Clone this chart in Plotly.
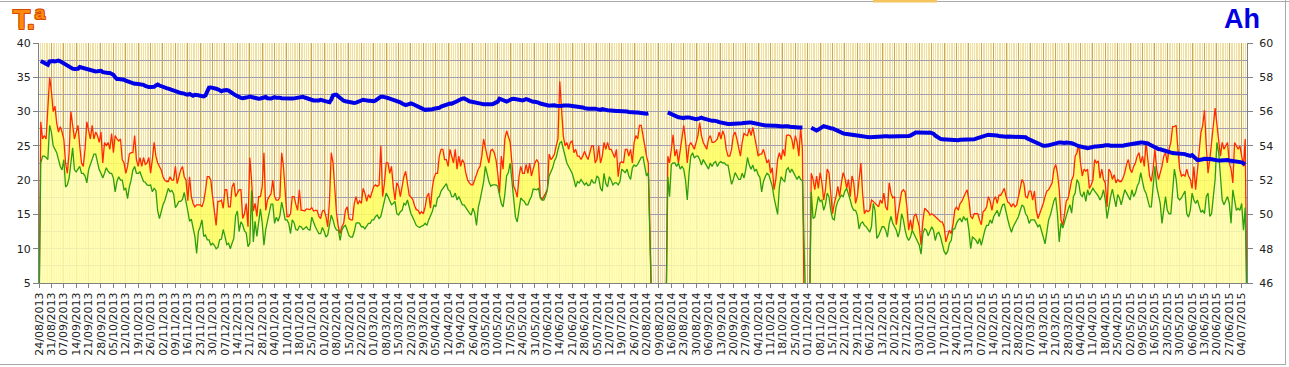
import pandas as pd
import plotly.graph_objects as go

# ---------------- data (daily, from 24/08/2013) ----------------
start_date = "2013-08-24"

tmax = [
None,
28.5, 26, 26.5, 26, 31, 35, 33, 30, 30.8, 28.3,
27, 27.8, 27, 26, 22.5, 21, 24, 30, 28, 26,
27, 28, 25, 22.5, 22, 24.5, 28.5, 27, 26, 28,
26, 27, 26.5, 25.5, 27, 22.5, 25.5, 25, 25.5, 24.5,
26.8, 24, 26.5, 26, 25.7, 26, 23, 22.5, 21, 22,
23.8, 24, 24, 26.5, 23, 22, 23.3, 22, 23.3, 22.3,
22.5, 23.3, 21, 23, 25.5, 23.5, 22.5, 22, 21.5, 20.5,
20, 19.8, 19.8, 20.5, 20, 20, 22, 19.5, 20.5, 21.5,
22, 20.5, 20, 17, 20.5, 17.6, 16.6, 16.1, 16.4, 16.4,
16.4, 16.1, 16.9, 18.5, 20.5, 20.5, 20, 17.6, 15, 13.4,
16.9, 16.9, 17.1, 15.9, 18.6, 18.6, 16.1, 16.1, 19, 19.6,
17.6, 18.1, 18.6, 18.6, 14.4, 15.1, 16.6, 13.2, 23.3, 20,
15.5, 16.6, 14.7, 17.6, 17.6, 19, 24, 15.6, 17.1, 17.6,
18, 20, 17.6, 17.1, 17.1, 17.5, 24, 22, 17.6, 14.7,
14.7, 15.1, 17.6, 17.6, 16.5, 15.6, 18.6, 15.6, 15.6, 15.5,
15.8, 15.8, 15.7, 16, 15.5, 15.6, 15.6, 14.7, 14.4, 15.5,
15.6, 14.7, 13.2, 17,
24, 22.5, 18, 15.1, 13.2, 12.2, 13.2, 13.7, 15.6, 16.1,
14.4, 14.2, 14.2, 16.6, 17.6, 16.5, 17, 16.6, 18.8, 18.1,
16.9, 17.9, 17.4, 18.3, 19.1, 19.3, 19.1, 19.3, 25, 17.6,
19.5, 22.5, 22.5, 21, 22, 19.1, 17.1, 19.6, 19.1, 17.6,
19.3, 20.5, 21.3, 19.5, 17.8, 17.5, 17.2, 16.3, 15.7, 15.6,
15.1, 15.4, 15.1, 16.1, 17.6, 18.1, 15.9, 18.8, 20.3, 21,
21, 23.5, 24.5, 24.5, 23, 23, 22, 24.5, 23.5, 22.5,
24.5, 21.6, 23.5, 22, 23, 22.5, 21, 20, 19.6, 19.3,
19.3, 20, 21, 21.6, 22, 23.5, 26, 24.5, 23.5, 22.5,
24.3, 24.5, 24, 23, 21, 18.1, 23.5, 21.6, 26, 27.2,
26.5, 25.5, 22.5, 19.1, 18.5, 17.5, 20.5, 22, 21, 21,
22.3, 21, 22.5, 20.6, 21.6, 22.5, 23, 22.5, 17.6, 17.1,
17.6, 18.1, 18.6, 23.8, 23, 23.3, 23.8, 25, 26, 34.4,
30, 26.5, 25, 25.5, 24.5, 25.5, 25.7, 24, 24.5, 23.5,
23.5, 23, 23.5, 24.2, 23.5, 23, 24, 25, 25, 22.5,
23, 25,
22.5, 23.5, 25.5, 24.5, 25.5, 24.5, 24.5, 23.8, 23.3, 24.5,
20.5, 22.5, 22.7, 22.5, 24.5, 24.5, 23.5, 24.5, 22.5, 25.5,
26.5, 26, 28, 28, 26.5, 24.5, 23.5, 22.5,
None, None, None, None, None, None, None, None, None, None,
23.5, 22.5, 24.5, 26.6, 23.5, 24.5, 22.5, 24.5, 26.5, 28,
25.8, 22.5, 25, 25.5, 25, 24.5, 25.5, 26.5, 28.4, 26.5,
25.5, 25, 24.5, 26, 26.5, 25.5, 25.5, 25.7, 26, 27,
26, 27.2, 26.5, 24.5, 23.5, 23.5, 24.5, 26.5, 27, 26,
24.5, 23.5, 25.5, 26.8, 26.6, 26.5, 27.5, 26.5, 27.7, 26.5,
25, 23.5, 23.8, 23.8, 24.5, 23.5, 22.5, 23, 21, 21.8,
18.6, 20.1, 23, 24, 23, 24.5, 23.5, 26.5, 26.6, 26.5,
26, 24.5, 26.5, 25.5, 23.5, 27.7, 24.5,
None, None, None, None,
21, 20.1, 18.6, 20.6, 18.8, 21.1, 19.6, 17.1, 18.6, 21.6,
21.1, 18.6, 15.1, 16.6, 17.6, 19.1, 17.6, 19.6, 21.1, 20.3,
18.8, 20.1, 17.6, 20.6, 19.6, 16.6, 17.6, 20.1, 22.5, 18,
15.1, 15.6, 15.4, 15.6, 17.1, 16.9, 16.6, 16.4, 16.1, 17.1,
16.6, 18.1, 16.1, 15.6, 19.6, 18.1, 17.4, 17.6, 13.5, 15.2,
17.1,
18.3, 18.6, 18.3, 16.1, 12.7, 14.2, 12.7, 14.7, 15.1, 14.2,
13.2, 10.5, 14, 15.9, 15.6, 15.4, 14.9, 15.1, 14.9, 14.7,
14.4, 14.2, 13.9, 13.9, 13.2, 11, 11.9, 12.7, 12.2, 13.5,
15.6, 16.1, 15.6, 16.6, 16.9, 17.6, 18.1, 18.6, 17.1, 14.7,
14.4, 15.1, 15.1, 15.1, 14.2, 13.5, 15.4, 15.6, 16.1, 17.6,
16.9, 15.6, 17.1, 17.6, 16.6, 17.8, 17.8, 18.4, 18.8, 17.6,
16.8, 16.6, 16.1, 16.6, 16.1, 16.4, 17.6, 18.8, 20.1, 19.6,
17.6, 17.4, 18.4, 18.4, 17.1, 18.4, 15.6, 14.4, 15.1, 15.6,
16.6, 17.6, 18.4, 18.6,
19.1, 19.6, 21.6, 22.3, 21, 18.6, 14.2, 13.4, 15.1, 17,
17.3, 18.7, 20, 20.6, 23.5, 24, 25.2, 22.5, 20.6, 21.6,
21.3, 21.6, 18.8, 19.3, 20, 23, 22.5, 22.8, 20.3, 21.6,
20.1, 19.6, 16.1, 21.6, 21.2, 20.1, 20.8, 19.6, 20.1, 19.8,
19.8, 20.3, 21.1, 22.3, 23, 21.6, 21.1, 22, 22.5, 23.5,
24, 22.5, 23.5, 22, 25.5, 23, 20.6, 19.8, 21.6, 24.5,
21.6, 20.1, 21.1, 22, 23.5, 24, 22.5, 24.5, 25.5, 27.8,
27.8, 28, 24.5, 21.6, 20.6, 20.8, 20.6, 21.6, 20.6, 20.1,
18.8, 22, 18.6, 21.5, 24, 27, 28, 30.2, 25, 21,
23, 26, 28, 30.5, 28, 26.5, 23.5, 25.5, 24.5, 25,
25.5, 22.5, 21.6, 19.6, 25.5, 25, 24.5, 25, 23.5, 22,
26,
None,
]

tmin = [
None,
22.5, 23.5, 23.5, 23.3, 23, 28, 27, 25, 24.5, 24,
23, 22, 21.5, 23, 19, 19.3, 20.3, 23, 24.7, 21.5,
21.2, 21.6, 22, 21, 21, 20.6, 19.6, 21.5, 22.2, 23,
23.8, 23.8, 22.5, 21.5, 21, 20.3, 21, 21.8, 21.3, 21,
21, 20.3, 18.3, 19.8, 20.5, 20, 20, 18.6, 18.8, 17.3,
19, 20, 21.5, 22, 21, 21, 21.2, 20.5, 19.8, 19.7,
19.3, 19.2, 19.3, 18.3, 18.8, 18.5, 15.5, 14.4, 15.5, 16.4,
17, 18, 18.8, 18.3, 18.5, 18, 16, 16.4, 16.9, 16.9,
17.2, 18.2, 17, 15.5, 14, 14.3, 13, 11.8, 9.3, 12.5,
13.2, 14.2, 11.8, 12, 11.3, 11.3, 10.5, 10.8, 10.5, 10,
10.2, 11.3, 11.4, 12.8, 11.8, 10.6, 10.8, 10, 10.8, 11.5,
14.8, 15.5, 12.5, 13.9, 13.5, 12.6, 12.3, 10.3, 10.8, 18.5,
11, 14, 11.8, 14.2, 15.8, 13.8, 10.5, 12.8, 14, 15.4,
16.5, 16.5, 13.7, 14.6, 14, 14.8, 16.8, 15.6, 14.2, 14.2,
13.7, 12.2, 14.2, 13.8, 12.8, 12.7, 13.3, 13.2, 12.8, 13,
13.2, 12.8, 12.7, 14.6, 13.7, 13.2, 12.7, 12.2, 12.2, 13.1,
12.5, 11.7, 12, 13.3,
14.9, 14.2, 13.2, 12.7, 12.7, 11.2, 12.7, 13.2, 13.4, 12.7,
11.9, 11.7, 11.7, 12.5, 13.7, 13.8, 13.7, 13.2, 13.2, 12.9,
13.4, 13.7, 13.7, 14.2, 14.2, 14.7, 14.9, 14.4, 14.7, 15.9,
17.4, 18.1, 17.6, 17.1, 16.4, 16.6, 16.9, 15.1, 14.9, 15.4,
15.6, 16.6, 16.4, 17.1, 16.1, 15.1, 14.6, 13.9, 13.4, 13.2,
13.1, 13.3, 13.4, 13.7, 13.4, 14.2, 14.8, 15.4, 16.4, 16.1,
17.4, 17.6, 18.4, 18.8, 19, 19.5, 18.6, 18.4, 17.6, 17.6,
18.1, 17.1, 17.6, 16.9, 16.4, 16.4, 15.9, 15.6, 15.2, 14.9,
15.9, 15.2, 13.4, 16, 17.1, 18.6, 19.7, 22, 20.6, 19.8,
19.1, 19.3, 19.3, 19.3, 19.1, 17.9, 16.6, 16.1, 17.9, 20.6,
21.1, 22.5, 19.8, 16.6, 14.6, 13.9, 15.6, 17.4, 17.1, 16.9,
16.4, 16.4, 17.1, 17.6, 18.7, 18.6, 18.6, 18.8, 17.4, 17.1,
17.1, 17.7, 18.6, 20.6, 21.2, 21.8, 22.8, 23.3, 24.4, 25.4,
25.6, 24.5, 23.5, 22.5, 22, 21.6, 21, 20.1, 19, 19.8,
19.6, 20.1, 19.6, 19.3, 19.6, 19.2, 19.3, 20.1, 19.6, 19.6,
20.6, 20.3,
18.8, 18.4, 21, 19.5, 19, 20.5, 20, 19.3, 19.6, 19.6,
19.3, 19.8, 21.6, 21.3, 21.1, 21.6, 20.6, 20.1, 21.8, 22.2,
22, 22.3, 22.8, 23.3, 23.4, 22, 20.6, 21.1,
None, None, None, None, None, None, None, None, None, None,
20.5, 17.6, 22.3, 22.5, 22.5, 22, 22.5, 21.6, 22, 21.6,
20, 17.1, 21, 23.5, 24, 23.2, 23.5, 23.5, 23, 22.2,
23, 22.5, 22, 21.6, 22.5, 22, 22.5, 22.7, 22, 22.5,
22.7, 22.5, 22.5, 22.2, 22.2, 21, 19.4, 20.1, 21.1, 20.6,
20.1, 20.1, 21, 20.3, 21.5, 23.3, 22.2, 21.6, 22.2, 21.3,
21.6, 20.8, 20.4, 18.3, 19.8, 20.5, 21, 20.8, 20.1, 19.1,
17.4, 15.9, 15, 19, 20.5, 20, 19.8, 21.5, 21.8, 21.1,
21.6, 21.1, 20.6, 20.1, 20.6, 20.1, 19.9,
None, None, None, None,
18.3, 14.4, 14.6, 16.1, 17.6, 16.9, 17.1, 15.6, 16.4, 18.1,
17.6, 15.6, 14.4, 14.2, 16.1, 16.9, 17.4, 17.8, 17.6, 18.4,
18.8, 18.1, 17.1, 16.1, 15.6, 15.6, 14.9, 12.9, 13.7, 13.9,
13.4, 13.2, 12.7, 12.4, 13.2, 16.6, 15.6, 11.5, 11.9, 12.7,
13.2, 13.2, 12.7, 11.7, 13.7, 14.7, 13.7, 13.2, 12.7, 11.7,
12.7,
15.1, 14.2, 12.7, 11.7, 11.2, 11.7, 12.7, 12.2, 11.7, 11.2,
10.5, 9.2, 12.2, 12.9, 12.7, 11.9, 12.7, 13.2, 12.7, 11.2,
12.2, 12.4, 11.7, 10.8, 9.6, 9.2, 9.6, 10.8, 11.2, 12.9,
12.9, 13.7, 14.2, 14.4, 13.9, 14.7, 14.2, 14.4, 12.7, 10,
11.7, 11.5, 11.2, 10.7, 11.5, 10.5, 11.7, 12.7, 13.4, 13.4,
14.2, 13.7, 14.7, 15.1, 15.6, 14.7, 15.6, 16.4, 16.5, 15.1,
14.2, 13.2, 12.4, 13.2, 13.7, 14.2, 14.7, 15.6, 16.4, 16.1,
15.1, 14.7, 13.7, 14.2, 14.2, 14.2, 13.7, 13.2, 13.5, 12.7,
11.7, 10.7, 12.7, 14.2,
14.9, 16.1, 17, 17.5, 15, 11, 13.7, 13, 14, 15.1,
15.7, 16.4, 15.2, 17.6, 18.1, 20.1, 19.6, 17.9, 17.6, 18.3,
16.9, 18.6, 17.8, 18.3, 18.8, 18.4, 18.1, 17.7, 17.1, 17.6,
18.6, 17.1, 14.4, 16.1, 17.6, 18.7, 17.1, 16.1, 17.9, 17.4,
16.4, 17.8, 18.6, 18.1, 17.6, 17.1, 18.6, 17.6, 18.1, 19.1,
19.6, 21.1, 19.8, 18.6, 18.1, 17.1, 16.1, 16.1, 19.1, 22,
19.1, 17.6, 16.6, 13.7, 16.1, 17.6, 15.6, 15.1, 15.1, 19.1,
21.6, 20.1, 17.4, 17.1, 17.4, 17.9, 18.4, 15.1, 14.6, 15.6,
18.1, 17.1, 16.6, 17.1, 16.1, 15.3, 15.6, 15.1, 17.6, 18.1,
14.7, 15.1, 17.6, 20.1, 25.5, 24, 20.6, 17.1, 16.4, 17.1,
17.6, 16.6, 13.7, 18.6, 17.1, 15.6, 15.9, 15.6, 16.6, 12.7,
16,
None,
]

ah = [
None,
58.95, 58.9, 58.82, 58.77, 58.73, 58.93, 58.97, 58.95, 58.93, 58.95,
58.97, 58.93, 58.87, 58.8, 58.72, 58.64, 58.58, 58.54, 58.5, 58.48,
58.48, 58.5, 58.6, 58.57, 58.54, 58.5, 58.44, 58.42, 58.4, 58.37,
58.34, 58.34, 58.35, 58.37, 58.38, 58.3, 58.27, 58.25, 58.25, 58.25,
58.2, 58.15, 58, 57.9, 57.9, 57.9, 57.88, 57.86, 57.8, 57.76,
57.7, 57.66, 57.63, 57.62, 57.62, 57.61, 57.6, 57.58, 57.56, 57.5,
57.43, 57.43, 57.43, 57.43, 57.45, 57.53, 57.58, 57.52, 57.47, 57.43,
57.4, 57.37, 57.34, 57.31, 57.29, 57.26, 57.22, 57.17, 57.12, 57.08,
57.08, 57.05, 57, 56.98, 57.03, 56.95, 56.92, 56.98, 56.98, 56.95,
56.92, 56.9, 56.88, 56.95, 57.2, 57.4, 57.41, 57.4, 57.37, 57.33,
57.3, 57.2, 57.18, 57.23, 57.25, 57.26, 57.22, 57.17, 57.1, 57.02,
56.95, 56.88, 56.82, 56.8, 56.78, 56.78, 56.82, 56.84, 56.88, 56.85,
56.82, 56.8, 56.75, 56.75, 56.76, 56.8, 56.84, 56.85, 56.78, 56.74,
56.76, 56.8, 56.84, 56.8, 56.77, 56.8, 56.78, 56.77, 56.76, 56.75,
56.74, 56.75, 56.76, 56.77, 56.79, 56.82, 56.86, 56.88, 56.86, 56.82,
56.78, 56.74, 56.69, 56.67, 56.65, 56.64, 56.63, 56.65, 56.68, 56.66,
56.63, 56.6, 56.57, 56.54,
56.7, 56.95, 56.98, 56.98, 56.88, 56.78, 56.7, 56.63, 56.6, 56.57,
56.54, 56.52, 56.5, 56.5, 56.52, 56.56, 56.62, 56.67, 56.69, 56.67,
56.63, 56.63, 56.63, 56.6, 56.6, 56.65, 56.72, 56.84, 56.87, 56.87,
56.86, 56.82, 56.79, 56.76, 56.73, 56.7, 56.65, 56.61, 56.58, 56.54,
56.47, 56.41, 56.38, 56.41, 56.44, 56.48, 56.44, 56.38, 56.32, 56.26,
56.22, 56.18, 56.14, 56.1, 56.1, 56.1, 56.13, 56.14, 56.16, 56.17,
56.2, 56.22, 56.29, 56.33, 56.4, 56.45, 56.49, 56.47, 56.46, 56.49,
56.53, 56.6, 56.66, 56.72, 56.75, 56.77, 56.74, 56.66, 56.6, 56.57,
56.55, 56.53, 56.51, 56.49, 56.47, 56.45, 56.43, 56.43, 56.43, 56.42,
56.4, 56.43, 56.48, 56.52, 56.58, 56.75, 56.7, 56.63, 56.6, 56.58,
56.63, 56.7, 56.74, 56.75, 56.72, 56.69, 56.66, 56.65, 56.65, 56.68,
56.73, 56.7, 56.65, 56.6, 56.57, 56.57, 56.57, 56.52, 56.47, 56.44,
56.42, 56.38, 56.36, 56.34, 56.36, 56.39, 56.37, 56.34, 56.32, 56.3,
56.33, 56.35, 56.37, 56.36, 56.35, 56.34, 56.33, 56.32, 56.3, 56.3,
56.3, 56.28, 56.24, 56.2, 56.16, 56.16, 56.16, 56.18, 56.2, 56.17,
56.14, 56.12, 56.1, 56.14, 56.14, 56.1, 56.08, 56.06, 56.08, 56.05,
56.04, 56.04, 56.04, 56.04, 56.04, 56.04, 56.02, 56, 55.98, 55.96,
55.96, 55.96, 55.95, 55.94, 55.92, 55.9, 55.88, 55.87, 55.87, 55.9,
None, None, None, None, None, None, None, None, None, None,
55.95, 55.9, 55.82, 55.78, 55.76, 55.72, 55.67, 55.65, 55.62, 55.62,
55.66, 55.67, 55.66, 55.63, 55.6, 55.57, 55.56, 55.58, 55.61, 55.65,
55.6, 55.56, 55.52, 55.48, 55.47, 55.46, 55.47, 55.47, 55.43, 55.38,
55.35, 55.33, 55.32, 55.31, 55.28, 55.28, 55.28, 55.3, 55.32, 55.32,
55.32, 55.32, 55.32, 55.34, 55.36, 55.36, 55.36, 55.36, 55.34, 55.3,
55.26, 55.22, 55.2, 55.19, 55.19, 55.19, 55.19, 55.2, 55.2, 55.19,
55.18, 55.17, 55.15, 55.13, 55.13, 55.13, 55.15, 55.16, 55.14, 55.12,
55.1, 55.09, 55.08, 55.07, 55.07, 55.07, 55.07,
None, None, None, None,
55.06, 54.99, 54.93, 54.9, 54.95, 55.03, 55.12, 55.15, 55.12, 55.07,
55.03, 55.03, 55.01, 54.96, 54.91, 54.84, 54.79, 54.76, 54.73, 54.71,
54.7, 54.7, 54.69, 54.66, 54.65, 54.64, 54.61, 54.59, 54.57, 54.54,
54.54, 54.53, 54.51, 54.5, 54.5, 54.51, 54.54, 54.54, 54.54, 54.54,
54.54, 54.56, 54.58, 54.56, 54.55, 54.55, 54.56, 54.57, 54.58, 54.57,
54.56,
54.54, 54.56, 54.56, 54.56, 54.58, 54.6, 54.66, 54.75, 54.78, 54.78,
54.77, 54.76, 54.77, 54.77, 54.76, 54.77, 54.78, 54.76, 54.71, 54.6,
54.52, 54.45, 54.41, 54.38, 54.37, 54.36, 54.35, 54.35, 54.35, 54.35,
54.34, 54.33, 54.33, 54.35, 54.35, 54.35, 54.36, 54.37, 54.35, 54.36,
54.37, 54.38, 54.42, 54.45, 54.49, 54.54, 54.6, 54.63, 54.65, 54.65,
54.64, 54.64, 54.64, 54.62, 54.6, 54.58, 54.56, 54.54, 54.53, 54.53,
54.55, 54.55, 54.55, 54.55, 54.55, 54.55, 54.55, 54.55, 54.55, 54.54,
54.5, 54.43, 54.38, 54.34, 54.3, 54.27, 54.2, 54.12, 54.07, 54.04,
54, 54, 54, 54.03,
54.06, 54.1, 54.12, 54.17, 54.2, 54.2, 54.19, 54.17, 54.17, 54.2,
54.2, 54.2, 54.16, 54.12, 54.06, 54, 53.98, 53.96, 53.92, 53.88,
53.86, 53.86, 53.88, 53.92, 53.95, 53.96, 53.96, 53.96, 53.96, 53.98,
54, 54.04, 54.05, 54.03, 54, 54, 54, 54, 53.98, 53.96,
53.98, 54, 54.04, 54.06, 54.08, 54.1, 54.13, 54.16, 54.18, 54.2,
54.2, 54.2, 54.2, 54.19, 54.17, 54.14, 54.08, 54.02, 53.96, 53.9,
53.85, 53.81, 53.8, 53.76, 53.72, 53.69, 53.67, 53.63, 53.6, 53.58,
53.57, 53.57, 53.56, 53.54, 53.53, 53.53, 53.52, 53.47, 53.45, 53.41,
53.46, 53.36, 53.28, 53.18, 53.18, 53.18, 53.22, 53.25, 53.26, 53.27,
53.24, 53.22, 53.19, 53.16, 53.14, 53.14, 53.14, 53.16, 53.18, 53.18,
53.17, 53.15, 53.14, 53.12, 53.11, 53.09, 53.08, 53.06, 53.04, 52.98,
52.94,
None,
]

x_range = ["2013-08-24", "2015-07-07"]
left_range = [5, 40]
right_range = [46, 60]

# ---------------- figure ----------------
W, H = 1289, 367
ML, MR, MT, MB = 39, 42, 43, 84
PW, PH = W - ML - MR, H - MT - MB


def px_x(px):
    return (px - ML) / PW


def px_y(py):
    return (H - MB - py) / PH


def dates_for(series):
    return pd.date_range(start_date, periods=len(series), freq="D")


# empty cells drawn as zero (as the original spreadsheet chart does)
tmax_plot = [v if v is not None else 0 for v in tmax]
tmin_plot = [v if v is not None else 0 for v in tmin]

fig = go.Figure()
fig.add_trace(go.Scatter(
    x=dates_for(tmin_plot), y=tmin_plot, mode="lines", line=dict(width=0),
    fill="tozeroy", fillcolor="rgba(255,255,175,0.82)", hoverinfo="skip"))
fig.add_trace(go.Scatter(
    x=dates_for(tmax_plot), y=tmax_plot, mode="lines", line=dict(width=0),
    fill="tonexty", fillcolor="rgba(255,255,100,0.85)", hoverinfo="skip"))
fig.add_trace(go.Scatter(
    x=dates_for(tmax_plot), y=tmax_plot, mode="lines",
    line=dict(color="#FF2A00", width=1.3)))
fig.add_trace(go.Scatter(
    x=dates_for(tmin_plot), y=tmin_plot, mode="lines",
    line=dict(color="#2E9E0E", width=1.3)))
fig.add_trace(go.Scatter(
    x=dates_for(ah), y=ah, mode="lines", yaxis="y2", connectgaps=False,
    line=dict(color="#0000E6", width=4)))

tick_font = dict(family="DejaVu Sans", size=11, color="#222222")

fig.update_layout(
    width=W, height=H,
    margin=dict(l=ML, r=MR, t=MT, b=MB, pad=0),
    paper_bgcolor="white",
    plot_bgcolor="#FFFEEC",
    showlegend=False,
    xaxis=dict(
        type="date", range=x_range, tick0="2013-08-24", dtick=7 * 86400000,
        tickformat="%d/%m/%Y", tickangle=-90, tickfont=tick_font,
        showgrid=True, gridcolor="#C9A65C", gridwidth=1,
        minor=dict(dtick=86400000, showgrid=True, gridcolor="#F0DFA6", gridwidth=1),
        ticks="outside", ticklen=4, tickcolor="#808080",
        showline=True, linecolor="#808080", linewidth=1, zeroline=False,
        automargin=False,
    ),
    yaxis=dict(
        range=left_range, tick0=0, dtick=5, tickfont=tick_font,
        showgrid=True, gridcolor="#A09EB0", gridwidth=1,
        minor=dict(dtick=2.5, showgrid=True, gridcolor="#A09EB0", gridwidth=1),
        ticks="outside", ticklen=5, tickcolor="#808080",
        showline=True, linecolor="#808080", linewidth=1, zeroline=False,
        automargin=False,
    ),
    yaxis2=dict(
        range=right_range, tick0=46, dtick=2, overlaying="y", side="right",
        tickfont=tick_font, showgrid=False, zeroline=False,
        ticks="outside", ticklen=5, tickcolor="#808080", ticklabelstandoff=4,
        showline=True, linecolor="#808080", linewidth=1, automargin=False,
    ),
)

outline = "#D24A00"
fig.add_annotation(
    text="T.ª", xref="paper", yref="paper", x=px_x(11), y=px_y(2),
    xanchor="left", yanchor="top", showarrow=False,
    font=dict(family="Liberation Sans", size=28, color="#FF8A12", weight="bold",
              shadow=f"1px 1px 0 {outline}, -1px -1px 0 {outline}, 1px -1px 0 {outline}, -1px 1px 0 {outline}"),
)
fig.add_annotation(
    text="Ah", xref="paper", yref="paper", x=px_x(1262), y=px_y(2),
    xanchor="right", yanchor="top", showarrow=False,
    font=dict(family="Liberation Sans", size=27, color="#0000E0", weight="bold"),
)

# window frame lines
frame = "#A8A8A8"
fig.add_shape(type="line", xref="paper", yref="paper", x0=px_x(0), x1=px_x(1289),
              y0=px_y(1.5), y1=px_y(1.5), line=dict(color=frame, width=1))
fig.add_shape(type="line", xref="paper", yref="paper", x0=px_x(0), x1=px_x(1286),
              y0=px_y(364.5), y1=px_y(364.5), line=dict(color=frame, width=1))
fig.add_shape(type="line", xref="paper", yref="paper", x0=px_x(1285.5), x1=px_x(1285.5),
              y0=px_y(0), y1=px_y(364.5), line=dict(color=frame, width=1))
fig.add_shape(type="rect", xref="paper", yref="paper", x0=px_x(873), x1=px_x(937),
              y0=px_y(2.5), y1=px_y(0), line=dict(width=0), fillcolor="#F6C45C")

fig.write_html(
    "out.html",
    config={"displayModeBar": False, "staticPlot": True},
    post_script="document.body.style.margin='0px';document.body.style.overflow='hidden';",
)
